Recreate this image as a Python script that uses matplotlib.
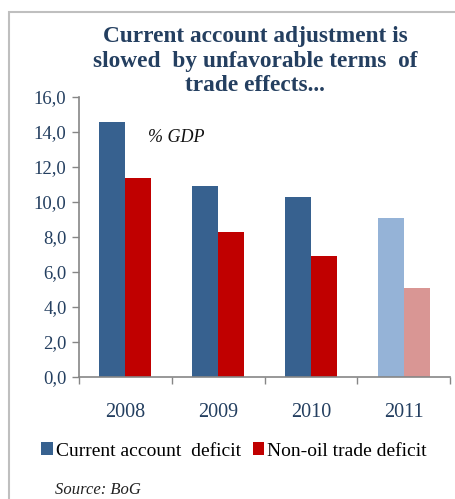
import matplotlib
matplotlib.use("Agg")
import matplotlib.pyplot as plt
import numpy as np
from matplotlib.patches import Rectangle, Patch

years = ["2008", "2009", "2010", "2011"]
current_account = [14.6, 10.9, 10.3, 9.1]
non_oil_trade = [11.4, 8.3, 6.9, 5.1]
yticks = [0, 2, 4, 6, 8, 10, 12, 14, 16]
ytick_labels = ["0,0", "2,0", "4,0", "6,0", "8,0", "10,0", "12,0", "14,0", "16,0"]

blue = ["#37618F", "#37618F", "#37618F", "#95B3D7"]
red = ["#C00000", "#C00000", "#C00000", "#D99694"]
navy = "#243F60"
serif = ["Liberation Serif", "DejaVu Serif"]

W, H = 455, 499
fig = plt.figure(figsize=(W / 100, H / 100), dpi=100)

# outer frame
fig.patches.append(Rectangle((9 / W, -0.1), 1.2, 1 - 12 / H + 0.1,
                             transform=fig.transFigure, fill=False,
                             edgecolor="#BFBFBF", linewidth=1.5))

ax = fig.add_axes([79 / W, 1 - 377 / H, (450 - 79) / W, (377 - 97) / H])
x = np.arange(len(years))
bw = 0.28
for i in range(len(years)):
    ax.bar(x[i] - bw / 2, current_account[i], bw, color=blue[i])
    ax.bar(x[i] + bw / 2, non_oil_trade[i], bw, color=red[i])

ax.set_xlim(-0.5, len(years) - 0.5)
ax.set_ylim(0, 16)
ax.set_yticks(yticks)
ax.set_yticklabels(ytick_labels, family=serif, fontsize=13.5, color=navy)
ax.set_xticks(np.arange(-0.5, len(years), 1.0))
ax.set_xticklabels([])
ax.tick_params(axis="y", length=5, width=1, color="#868686", pad=4)
ax.tick_params(axis="x", length=5, width=1, color="#868686")
for s in ["top", "right"]:
    ax.spines[s].set_visible(False)
for s in ["left", "bottom"]:
    ax.spines[s].set_color("#868686")
    ax.spines[s].set_linewidth(1.2)

for i, yr in enumerate(years):
    ax.text(x[i], -2.05, yr, ha="center", va="center", family=serif,
            fontsize=14.5, color=navy)

ax.text(0.24, 13.7, "% GDP", family=serif, style="italic", fontsize=13,
        color="#111111", va="center")

fig.text(255 / W, 1 - 61 / H,
         "Current account adjustment is\nslowed  by unfavorable terms  of\ntrade effects...",
         ha="center", va="center", family=serif, fontweight="bold",
         fontsize=16.8, color=navy, linespacing=1.2)

handles = [Patch(facecolor=blue[0]), Patch(facecolor=red[0])]
fig.legend(handles, ["Current account  deficit", "Non-oil trade deficit"],
           loc="center", bbox_to_anchor=(234 / W, 1 - 451 / H), ncol=2,
           frameon=False, prop={"family": serif, "size": 14},
           handlelength=0.6, handleheight=0.6, handletextpad=0.15,
           columnspacing=0.6)

fig.text(55 / W, 1 - 490 / H, "Source: BoG", family=serif, style="italic",
         fontsize=12, va="center", color="#222222")

fig.savefig("out.png", dpi=100)
